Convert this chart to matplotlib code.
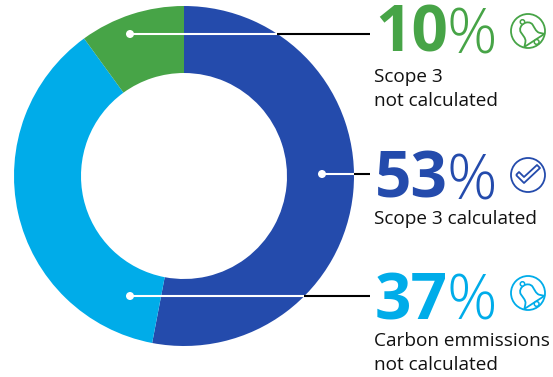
import matplotlib
matplotlib.use("Agg")
import matplotlib.pyplot as plt
from matplotlib.patches import Circle, PathPatch
from matplotlib.path import Path
import numpy as np

W, H = 553, 377
shares = [53, 37, 10]
colors = ["#244BAC", "#00ACE9", "#47A447"]
big_labels = ["53", "37", "10"]
captions = ["Scope 3 calculated", "Carbon emmissions\nnot calculated", "Scope 3\nnot calculated"]
leader_y = [174, 296, 34]
dot_x = [322, 130, 130]
number_base = [198, 319, 52]
caption_top = [210, 332, 68]
icon_y = [175, 293, 31]
icon_kind = ["check", "bell", "bell"]

CX, CY, R_OUT, R_IN = 184, 176, 170, 103
TEXT_X = 375
ICON_X = 528

fig = plt.figure(figsize=(W / 100, H / 100), dpi=100, facecolor="white")
ax = fig.add_axes([0, 0, 1, 1])
# The y axis runs downward, so a counter-clockwise sweep from -90 reads clockwise from the top.
ax.pie(shares, colors=colors, startangle=-90, counterclock=True, center=(CX, CY),
       radius=R_OUT, wedgeprops=dict(width=R_OUT - R_IN, linewidth=0))
ax.set_xlim(0, W)
ax.set_ylim(H, 0)
ax.set_aspect("equal")
ax.axis("off")


def draw_check(x, y, c):
    pts = [(-12, 0), (-4, 8), (12, -7), (9, -10), (-4, 2), (-9, -3), (-12, 0)]
    ax.add_patch(PathPatch(Path([(x + a, y + b) for a, b in pts]), fc="none", ec=c, lw=1.3, joinstyle="round"))


def draw_bell(x, y, c):
    a = np.radians(-33)
    rot = np.array([[np.cos(a), -np.sin(a)], [np.sin(a), np.cos(a)]])
    verts = np.array([(-8, 6), (-6, 3), (-7, -1), (-7, -4), (-7, -8), (-3, -10), (0, -10),
                      (3, -10), (7, -8), (7, -4), (7, -1), (6, 3), (8, 6),
                      (10, 8), (11, 9), (12, 10), (-12, 10), (-11, 9), (-8, 6)], float)
    codes = [Path.MOVETO] + [Path.CURVE4] * 15 + [Path.LINETO] * 3
    body = verts @ rot.T + (x + 1, y + 1)
    ax.add_patch(PathPatch(Path(body, codes), fc="none", ec=c, lw=1.3, joinstyle="round"))
    knob = np.array([[0, -12], [1, 12.5]]) @ rot.T + (x + 1, y + 1)
    ax.add_patch(Circle(knob[0], 2.2, fc="white", ec=c, lw=1.1))
    ax.add_patch(Circle(knob[1], 2.4, fc="white", ec=c, lw=1.1))


for i, share in enumerate(shares):
    c = colors[i]
    y = leader_y[i]
    edge = CX + np.sqrt(R_OUT ** 2 - (y - CY) ** 2)
    ax.plot([dot_x[i], edge], [y, y], color="white", lw=1.5, solid_capstyle="butt", zorder=3)
    ax.plot([edge, 370], [y, y], color="black", lw=1.5, solid_capstyle="butt", zorder=3)
    ax.add_patch(Circle((dot_x[i], y), 4, fc="white", ec="none", zorder=4))

    ax.text(TEXT_X, number_base[i], big_labels[i], family="Open Sans", weight="bold",
            size=46, color=c, ha="left", va="baseline")
    ax.text(447, number_base[i] + 1, "%", family="Open Sans", weight="light", size=45,
            color=c, ha="left", va="baseline")
    ax.text(374, caption_top[i], captions[i], family="Open Sans", size=13.7, color="#111111",
            ha="left", va="top", linespacing=1.4)

    ax.add_patch(Circle((ICON_X, icon_y[i]), 17, fc="none", ec=c, lw=1.3))
    if icon_kind[i] == "check":
        draw_check(ICON_X, icon_y[i], c)
    else:
        draw_bell(ICON_X, icon_y[i], c)

fig.savefig("out.png", dpi=100, facecolor="white")
